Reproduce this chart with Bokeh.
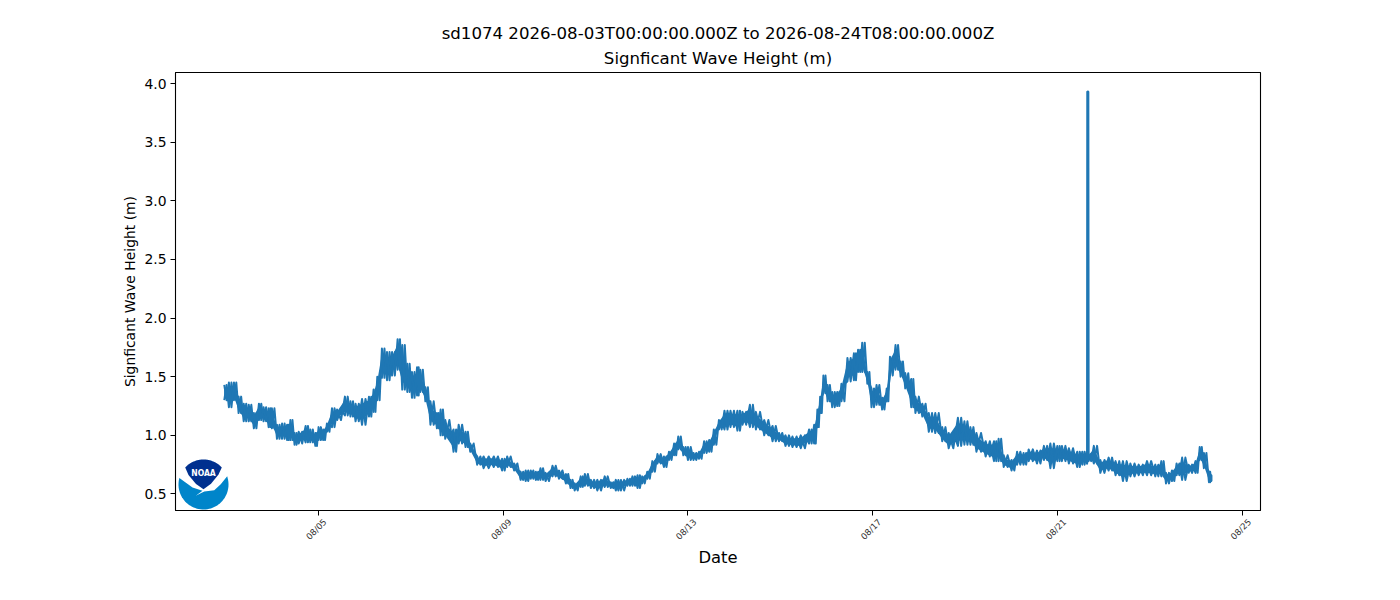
from bokeh.plotting import figure
from bokeh.models import Range1d, FixedTicker, LinearAxis, NumeralTickFormatter, Title, CustomLabelingPolicy
from bokeh.core.properties import value
from bokeh.embed import file_html
from bokeh.resources import INLINE
import numpy as np

# day of August 2026, and the upper / lower edge of the noisy trace
days = [
 2.97,3.07,3.18,3.28,3.39,3.50,3.61,3.72,3.82,3.93,
 4.00,4.11,4.22,4.33,4.40,4.49,4.58,4.73,4.83,4.94,
 5.01,5.11,5.19,5.30,5.41,5.58,5.70,5.81,5.95,6.10,
 6.20,6.28,6.38,6.49,6.60,6.72,6.82,6.93,7.03,7.14,
 7.21,7.32,7.43,7.57,7.65,7.75,7.93,8.04,8.19,8.29,
 8.44,8.58,8.80,8.98,9.09,9.24,9.38,9.49,9.60,9.71,
 9.81,9.92,10.07,10.21,10.36,10.46,10.55,10.68,10.77,10.90,
 11.04,11.20,11.33,11.44,11.55,11.69,11.80,11.91,12.01,12.12,
 12.23,12.34,12.48,12.59,12.70,12.79,12.90,13.00,13.12,13.24,
 13.35,13.46,13.56,13.67,13.79,13.92,14.07,14.18,14.34,14.47,
 14.65,14.83,14.97,15.11,15.26,15.44,15.62,15.73,15.80,15.86,
 15.93,16.02,16.12,16.23,16.32,16.45,16.59,16.68,16.77,16.88,
 16.97,17.08,17.20,17.30,17.37,17.49,17.60,17.70,17.83,17.92,
 18.07,18.21,18.35,18.50,18.64,18.84,18.98,19.11,19.24,19.44,
 19.62,19.72,19.83,20.00,20.12,20.26,20.37,20.55,20.70,20.84,
 20.99,21.09,21.24,21.42,21.53,21.63,21.64,21.655,21.665,21.78,
 21.92,22.10,22.25,22.41,22.57,22.75,22.93,23.11,23.24,23.34,
 23.47,23.57,23.69,23.83,23.98,24.07,24.16,24.27,24.32,
]
upper = [
 1.43,1.45,1.45,1.33,1.27,1.26,1.19,1.27,1.24,1.23,
 1.23,1.09,1.10,1.09,1.13,1.02,1.03,1.08,1.05,1.02,
 1.07,1.05,1.10,1.23,1.22,1.33,1.29,1.27,1.31,1.33,
 1.39,1.50,1.74,1.71,1.71,1.82,1.77,1.61,1.54,1.58,
 1.56,1.41,1.29,1.19,1.22,1.13,1.05,1.09,1.03,0.93,
 0.82,0.82,0.82,0.80,0.82,0.76,0.69,0.70,0.70,0.69,
 0.72,0.68,0.74,0.70,0.67,0.62,0.59,0.65,0.67,0.62,
 0.62,0.65,0.60,0.62,0.62,0.63,0.65,0.66,0.65,0.69,
 0.78,0.84,0.82,0.86,0.93,0.99,0.90,0.90,0.85,0.86,
 0.95,0.96,1.05,1.13,1.21,1.21,1.21,1.20,1.26,1.20,
 1.13,1.08,1.02,1.00,0.99,1.00,1.05,1.09,1.22,1.33,
 1.51,1.43,1.37,1.37,1.44,1.66,1.70,1.73,1.79,1.54,
 1.40,1.43,1.32,1.40,1.67,1.77,1.63,1.53,1.48,1.33,
 1.27,1.19,1.19,1.07,1.02,1.15,1.12,1.07,1.02,0.95,
 0.95,0.97,0.83,0.79,0.86,0.85,0.88,0.87,0.91,0.93,
 0.91,0.91,0.89,0.86,0.86,0.86,3.93,3.93,0.84,0.91,
 0.79,0.81,0.78,0.78,0.76,0.75,0.78,0.75,0.78,0.68,
 0.70,0.76,0.81,0.75,0.78,0.90,0.85,0.69,0.66,
]
lower = [
 1.30,1.24,1.30,1.19,1.12,1.12,1.06,1.13,1.12,1.07,
 1.06,0.97,0.97,0.96,0.96,0.92,0.93,0.94,0.94,0.91,
 0.96,0.96,1.03,1.07,1.13,1.17,1.16,1.12,1.09,1.16,
 1.20,1.30,1.49,1.47,1.51,1.56,1.39,1.37,1.32,1.34,
 1.37,1.29,1.09,1.06,1.00,0.97,0.86,0.93,0.90,0.86,
 0.75,0.72,0.73,0.70,0.73,0.70,0.62,0.61,0.63,0.62,
 0.62,0.61,0.65,0.63,0.59,0.55,0.53,0.56,0.57,0.55,
 0.53,0.56,0.55,0.53,0.53,0.57,0.57,0.55,0.59,0.63,
 0.69,0.76,0.73,0.79,0.83,0.88,0.83,0.79,0.79,0.80,
 0.85,0.86,0.92,1.05,1.05,1.07,1.04,1.09,1.07,1.05,
 1.00,0.95,0.95,0.91,0.90,0.89,0.93,0.93,1.07,1.19,
 1.36,1.29,1.24,1.25,1.29,1.46,1.47,1.54,1.54,1.44,
 1.24,1.26,1.22,1.29,1.51,1.56,1.50,1.40,1.24,1.19,
 1.16,1.03,1.02,0.95,0.89,0.91,0.92,0.92,0.86,0.82,
 0.78,0.78,0.73,0.70,0.75,0.75,0.78,0.76,0.79,0.72,
 0.78,0.78,0.76,0.73,0.75,0.76,0.85,0.85,0.78,0.76,
 0.68,0.70,0.66,0.61,0.65,0.66,0.66,0.65,0.65,0.59,
 0.61,0.66,0.62,0.68,0.68,0.79,0.72,0.60,0.61,
]

x_ticks = [5, 9, 13, 17, 21, 25]
x_labels = ["08/05", "08/09", "08/13", "08/17", "08/21", "08/25"]
y_ticks = [0.5, 1.0, 1.5, 2.0, 2.5, 3.0, 3.5, 4.0]
title_1 = "sd1074 2026-08-03T00:00:00.000Z to 2026-08-24T08:00:00.000Z"
title_2 = "Signficant Wave Height (m)"

FONT = "DejaVu Sans"
x0, x1 = 1.915, 25.385
y0, y1 = 0.359, 4.094
FW, FH = 1085, 438
px_x = (x1 - x0) / FW
px_y = (y1 - y0) / FH

p = figure(frame_width=FW, frame_height=FH, output_backend="svg", toolbar_location=None,
           x_range=Range1d(x0, x1), y_range=Range1d(y0, y1),
           min_border_left=175, min_border_right=132, min_border_top=72, min_border_bottom=82,
           background_fill_color="white", border_fill_color="white")
p.grid.visible = False
p.outline_line_color = "black"
p.outline_line_width = 1.1

for txt, gap, lh in ((title_2, 9, 1.15), (title_1, 0, 0.95)):
    p.add_layout(Title(text=txt, align="center", text_font=FONT, text_font_size="16.6px",
                       text_font_style="normal", text_color="black", standoff=gap,
                       text_line_height=lh), "above")

# tick marks on the main axis; the labels sit on a second axis whose range is
# shifted so each rotated label is centred under its tick
ax = p.xaxis[0]
ax.ticker = FixedTicker(ticks=x_ticks)
ax.major_label_policy = CustomLabelingPolicy(code="return [];")
ax.major_label_text_font_size = "1px"
ax.major_label_standoff = 0
ax.minor_tick_line_color = None
ax.major_tick_out = 5
ax.major_tick_in = 0
ax.axis_line_color = "black"

SHIFT = 7 * px_x
p.extra_x_ranges["labels"] = Range1d(x0 - SHIFT, x1 - SHIFT)
lab = LinearAxis(x_range_name="labels", ticker=FixedTicker(ticks=x_ticks))
lab.major_label_overrides = dict(zip(x_ticks, x_labels))
lab.major_label_orientation = np.pi / 4
lab.major_label_text_font = FONT
lab.major_label_text_font_size = "8.6px"
lab.major_label_text_color = "#333333"
lab.major_label_standoff = 1
lab.axis_line_color = None
lab.major_tick_line_color = None
lab.minor_tick_line_color = None
lab.major_tick_out = 0
lab.major_tick_in = 0
lab.axis_label = "Date"
lab.axis_label_text_font = FONT
lab.axis_label_text_font_size = "16.4px"
lab.axis_label_text_font_style = "normal"
lab.axis_label_text_color = "black"
lab.axis_label_standoff = 0
p.add_layout(lab, "below")

ay = p.yaxis[0]
ay.ticker = FixedTicker(ticks=y_ticks)
ay.formatter = NumeralTickFormatter(format="0.0")
ay.major_label_text_font = FONT
ay.major_label_text_font_size = "13.9px"
ay.major_label_text_color = "black"
ay.major_label_standoff = 4
ay.axis_label = title_2
ay.axis_label_text_font = FONT
ay.axis_label_text_font_size = "13.9px"
ay.axis_label_text_font_style = "normal"
ay.axis_label_text_color = "black"
ay.axis_label_standoff = 3
ay.minor_tick_line_color = None
ay.major_tick_out = 5
ay.major_tick_in = 0
ay.axis_line_color = "black"

# the dense part of the noisy trace, without the single spike
core = [i for i, u in enumerate(upper) if u < 2]
p.varea([days[i] for i in core],
        [lower[i] + 0.18 * (upper[i] - lower[i]) for i in core],
        [upper[i] - 0.18 * (upper[i] - lower[i]) for i in core],
        fill_color="#1f77b4")

# trace: two interleaved passes between the lower and upper edge of each reading,
# which gives the fine teeth of the noisy line
xs_a, ys_a, xs_b, ys_b = [], [], [], []
for i, d in enumerate(days):
    nxt = days[i + 1] if i + 1 < len(days) else d
    mid = (d + nxt) / 2
    xs_a += [d, mid]
    ys_a += [upper[i], lower[i]]
    xs_b += [d, mid]
    ys_b += [lower[i], upper[i]]
p.line(xs_b, ys_b, line_color="#1f77b4", line_width=2.0, line_join="round")
p.line(xs_a, ys_a, line_color="#1f77b4", line_width=2.0, line_join="round")

# NOAA logo, drawn in a unit circle placed in the axes' lower left corner
cx = x0 + 28 * px_x
cy = y0 + 26 * px_y
R = 25
def lx(u): return [cx + a * R * px_x for a in u]
def ly(v): return [cy + b * R * px_y for b in v]
ang = np.linspace(0, 2 * np.pi, 90)
p.patch(lx(np.cos(ang)), ly(np.sin(ang)), fill_color="#0085CA", line_color=None)
white_u = [-1.02,-0.80,0,0.80,1.02,0.69,0.43,0.03,-0.31,-0.04,-0.44,-1.02]
white_v = [0.30,0.80,1.05,0.80,0.42,0.01,-0.23,-0.28,-0.45,-0.25,-0.12,0.30]
p.patch(lx(white_u), ly(white_v), fill_color="white", line_color=None)
top = np.linspace(np.radians(43), np.radians(137), 30)
dark_u = list(np.cos(top)) + [-0.60, -0.30, 0.0, 0.30, 0.60]
dark_v = list(np.sin(top)) + [0.38, 0.02, -0.19, 0.03, 0.40]
p.patch(lx(dark_u), ly(dark_v), fill_color="#00308F", line_color=None)
p.text(lx([0]), ly([0.45]), text=["NOAA"], text_color="white", text_align="center",
       text_baseline="middle", text_font=value("DejaVu Sans Condensed"),
       text_font_size="8.5px", text_font_style="bold")

open("out.html", "w").write(file_html(p, INLINE))
